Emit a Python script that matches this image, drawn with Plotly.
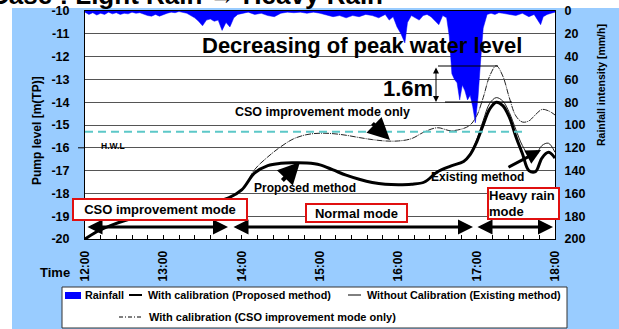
import plotly.graph_objects as go

# ---------------- data ----------------
level_time = ["12:00","12:10","12:20","12:30","12:40","12:50","13:00","13:10","13:20","13:30",
              "13:40","13:50","14:00","14:10","14:20","14:30","14:40","14:50","15:00","15:10",
              "15:20","15:30","15:40","15:50","16:00","16:10","16:20","16:30","16:40","16:50",
              "16:55","17:00","17:05","17:10","17:15","17:20","17:25","17:30","17:35","17:40",
              "17:45","17:50","17:55","18:00"]

proposed = [-20.0,-19.65,-19.4,-19.2,-19.05,-18.95,-18.85,-18.75,-18.65,-18.5,
            -18.35,-18.2,-17.85,-17.1,-16.78,-16.68,-16.66,-16.67,-16.75,-16.97,
            -17.2,-17.38,-17.52,-17.6,-17.62,-17.6,-17.5,-17.05,-16.8,-16.6,
            -16.3,-15.75,-15.0,-14.3,-14.0,-14.15,-14.65,-15.5,-16.25,-17.0,
            -17.05,-16.45,-16.2,-16.45]

existing = [-20.0,-19.65,-19.4,-19.2,-19.05,-18.95,-18.85,-18.75,-18.65,-18.5,
            -18.35,-18.2,-17.85,-17.1,-16.78,-16.68,-16.66,-16.67,-16.75,-16.97,
            -17.2,-17.38,-17.52,-17.6,-17.62,-17.6,-17.5,-17.05,-16.8,-16.6,
            -16.25,-15.65,-14.8,-14.05,-13.8,-13.95,-14.45,-15.2,-15.9,-16.3,
            -16.3,-15.9,-15.8,-16.2]

cso_only = [-20.0,-19.65,-19.4,-19.2,-19.05,-18.95,-18.85,-18.75,-18.65,-18.5,
            -18.35,-18.2,-17.85,-16.95,-16.4,-15.95,-15.6,-15.42,-15.36,-15.38,
            -15.45,-15.55,-15.64,-15.7,-15.7,-15.6,-15.3,-15.12,-15.25,-15.15,
            -15.0,-14.6,-13.8,-12.85,-12.4,-12.85,-13.8,-14.6,-14.87,-14.82,
            -14.55,-14.32,-14.38,-14.56]

rain_time = ["12:00","12:03","12:06","12:09","12:12","12:15","12:18","12:21","12:24","12:27",
             "12:30","12:33","12:36","12:39","12:42","12:45","12:48","12:51","12:54","12:57",
             "13:00","13:03","13:06","13:09","13:12","13:15","13:18","13:21","13:24","13:27",
             "13:30","13:33","13:36","13:39","13:42","13:45","13:48","13:51","13:54","13:57",
             "14:00","14:05","14:10","14:15","14:20","14:25","14:30","14:35","14:40","14:45",
             "14:50","14:55","15:00","15:05","15:10","15:15","15:20","15:25","15:30","15:35",
             "15:40","15:45","15:50","15:53","15:56","15:59","16:02","16:05","16:07","16:10",
             "16:13","16:16","16:19","16:22","16:25","16:28","16:31","16:34","16:37","16:39",
             "16:41","16:43","16:45","16:47","16:49","16:51","16:53","16:55","16:57","16:59",
             "17:01","17:03","17:05","17:08","17:11","17:14","17:17","17:20","17:25","17:30",
             "17:35","17:40","17:44","17:47","17:49","17:51","17:54","17:57","18:00"]

rainfall = [1,3,1.5,3.5,2,3,1,2.5,1.5,3,
            2,2.5,1,2,1.5,3,4,4.5,3,4.5,
            3,2,1,1.5,0.5,1,2,4,6,9,
            13,8,7,9,8,17,10,14,6,3,
            2,1,3,2,4,5,2,1,1.5,1,
            2,1,2,3.5,5,4,6,4,5,3,
            4,6,3,8,5,14,20,28,10,4,
            6,8,4,3,5,9,12,4,6,22,
            55,60,63,78,65,70,78,74,84,98,
            76,44,15,3,2,3,1.5,2,3,4,
            2,5,3,9,12,5,3,2,1]

hour_ticks = [12, 13, 14, 15, 16, 17, 18]
hour_labels = ["12:00", "13:00", "14:00", "15:00", "16:00", "17:00", "18:00"]
level_ticks = [-10, -11, -12, -13, -14, -15, -16, -17, -18, -19, -20]
rain_ticks = [0, 20, 40, 60, 80, 100, 120, 140, 160, 180, 200]
hwl_level = -15.3


def hours(t):
    h, m = t.split(":")
    return int(h) + int(m) / 60


FONT = "Liberation Sans, Arial, sans-serif"
W, H = 619, 329
L, R, T, B = 85, 64, 11, 90
PW, PH = W - L - R, H - T - B


def PX(x):
    return (x - L) / PW


def PY(y):
    return (H - B - y) / PH


fig = go.Figure()

fig.add_trace(go.Scatter(
    x=[hours(t) for t in rain_time], y=rainfall, yaxis="y", mode="lines",
    fill="tozeroy", fillcolor="#0000FF", line=dict(color="#0000FF", width=0.5),
    name="Rainfall", showlegend=False))

lt = [hours(t) for t in level_time]
fig.add_trace(go.Scatter(x=lt, y=cso_only, yaxis="y2", mode="lines", line_shape="spline",
                         line=dict(color="#222222", width=1, dash="6px,1px,1px,1px"),
                         name="With calibration (CSO improvement mode only)", showlegend=False))
fig.add_trace(go.Scatter(x=lt, y=existing, yaxis="y2", mode="lines", line_shape="spline",
                         line=dict(color="#222222", width=1),
                         name="Without Calibration (Existing method)", showlegend=False))
fig.add_trace(go.Scatter(x=lt, y=proposed, yaxis="y2", mode="lines", line_shape="spline",
                         line=dict(color="black", width=3),
                         name="With calibration (Proposed method)", showlegend=False))

shapes = []
# blue backdrop and white plot area
shapes.append(dict(type="rect", xref="paper", yref="paper", x0=PX(12), x1=PX(619), y0=PY(329), y1=PY(8),
                   fillcolor="#99CCFF", line=dict(width=0), layer="below"))
shapes.append(dict(type="rect", xref="paper", yref="paper", x0=0, x1=1, y0=0, y1=1,
                   fillcolor="white", line=dict(width=0), layer="below"))
# dashed level line
shapes.append(dict(type="line", xref="paper", yref="y2", x0=0, x1=PX(527), y0=hwl_level, y1=hwl_level,
                   line=dict(color="#5CC8C8", width=2, dash="8px,5px"), layer="above"))
# H.W.L tick
shapes.append(dict(type="line", xref="paper", yref="paper", x0=PX(78), x1=PX(85), y0=PY(147.8), y1=PY(147.8),
                   line=dict(color="black", width=1)))
# 1.6 m reference lines
shapes.append(dict(type="line", xref="paper", yref="paper", x0=PX(438), x1=PX(498), y0=PY(66), y1=PY(66),
                   line=dict(color="black", width=1.2), layer="above"))
shapes.append(dict(type="line", xref="paper", yref="paper", x0=PX(445), x1=PX(512), y0=PY(102), y1=PY(102),
                   line=dict(color="black", width=1.2), layer="above"))
# legend box
shapes.append(dict(type="rect", xref="paper", yref="paper", x0=PX(62), x1=PX(567), y0=PY(328), y1=PY(287),
                   fillcolor="white", line=dict(color="#333333", width=1)))
shapes.append(dict(type="rect", xref="paper", yref="paper", x0=PX(65), x1=PX(81), y0=PY(299), y1=PY(292),
                   fillcolor="#0000FF", line=dict(width=0)))
shapes.append(dict(type="line", xref="paper", yref="paper", x0=PX(129), x1=PX(142), y0=PY(295), y1=PY(295),
                   line=dict(color="black", width=2)))
shapes.append(dict(type="line", xref="paper", yref="paper", x0=PX(348), x1=PX(361), y0=PY(295), y1=PY(295),
                   line=dict(color="black", width=1)))
shapes.append(dict(type="line", xref="paper", yref="paper", x0=PX(119), x1=PX(143), y0=PY(317), y1=PY(317),
                   line=dict(color="black", width=1, dash="4px,2px,1px,2px")))

ann = []


def text(x, y, s, size, anchor="center", bold=True, **kw):
    ann.append(dict(x=PX(x), y=PY(y), xref="paper", yref="paper", text=("<b>%s</b>" % s) if bold else s,
                    showarrow=False, xanchor=anchor, yanchor="middle",
                    font=dict(family=FONT, size=size, color="black"), **kw))


def arrow(x0, y0, x1, y1, width, head=2, size=1.0, both=False, color="black"):
    ann.append(dict(x=PX(x1), y=PY(y1), xref="paper", yref="paper", ax=x0 - x1, ay=y0 - y1,
                    text="", showarrow=True, arrowhead=head, arrowsize=size, arrowwidth=width,
                    arrowcolor=color, arrowside="end+start" if both else "end",
                    startarrowhead=head, startarrowsize=size))


# title (clipped at top, as in the source image)
text(-12, -5, "Case : Light Rain \u2192 Heavy Rain", 26, anchor="left")
text(362, 45, "Decreasing of peak water level", 22)
text(408, 89, "1.6m", 22)
text(322, 112, "CSO improvement mode only", 12.5)
text(113, 146, "H.W.L", 8.5)
text(305, 187.5, "Proposed method", 12)
text(477, 177, "Existing method", 12)
# axis titles
text(37, 131, "Pump level [m(TP)]", 12, textangle=-90)
text(601, 85, "Rainfall intensity [mm/h]", 10.5, textangle=-90)
text(55, 272, "Time", 13)
# legend texts
text(83, 295, "Rainfall", 10.8, anchor="left")
text(146, 295, "With calibration (Proposed method)", 10.8, anchor="left")
text(365, 295, "Without Calibration (Existing method)", 10.8, anchor="left")
text(147, 317, "With calibration (CSO improvement mode only)", 11, anchor="left")

# arrows
arrow(436, 66, 436, 102, 1, head=2, size=1.2, both=True)
arrow(371, 122, 390, 140, 4, head=2, size=1.1)
arrow(281, 182, 300, 162, 4, head=2, size=1.1)
arrow(507, 168, 541, 150, 3, head=2, size=1.0)
arrow(86, 227, 228, 227, 3, head=2, size=1.0, both=True)
arrow(232, 227, 473, 227, 3, head=2, size=1.0, both=True)
arrow(476, 227, 553, 227, 3, head=2, size=1.0, both=True)

# mode boxes
box_font = dict(family=FONT, size=13, color="black")
ann.append(dict(x=PX(160), y=PY(209.5), xref="paper", yref="paper", text="<b>CSO improvement mode</b>",
                showarrow=False, xanchor="center", yanchor="middle",
                width=172, height=19, bgcolor="white", bordercolor="#E01010",
                borderwidth=2, borderpad=0, font=box_font))
ann.append(dict(x=PX(356.5), y=PY(213), xref="paper", yref="paper", text="<b>Normal mode</b>",
                showarrow=False, xanchor="center", yanchor="middle",
                width=99, height=16, bgcolor="white", bordercolor="#E01010",
                borderwidth=2, borderpad=0, font=box_font))
ann.append(dict(x=PX(523.5), y=PY(203.5), xref="paper", yref="paper", text="<b>Heavy rain<br>mode</b>",
                showarrow=False, xanchor="center", yanchor="middle",
                width=69, height=29, bgcolor="white", bordercolor="#E01010",
                borderwidth=2, borderpad=0, align="left", font=box_font))

fig.update_layout(
    width=W, height=H, autosize=False,
    margin=dict(l=L, r=R, t=T, b=B, autoexpand=False),
    paper_bgcolor="white", plot_bgcolor="rgba(0,0,0,0)",
    showlegend=False,
    shapes=shapes, annotations=ann,
    xaxis=dict(range=[12, 18], tickvals=hour_ticks, ticktext=["<b>%s</b>" % s for s in hour_labels],
               tickangle=-90, ticks="inside", ticklen=4, tickcolor="black", automargin=False,
               minor=dict(dtick=0.2, ticks="inside", ticklen=4, tickcolor="black"),
               showline=True, linecolor="black", linewidth=1, mirror=True, showgrid=False,
               zeroline=False, tickfont=dict(family=FONT, size=12, color="black"), ticklabelstandoff=6),
    yaxis=dict(range=[200, 0], tickvals=rain_ticks, ticktext=["<b>%d</b>" % v for v in rain_ticks],
               side="right", showgrid=False, zeroline=False, ticks="", showline=True, automargin=False,
               linecolor="black", linewidth=1,
               tickfont=dict(family=FONT, size=12.5, color="black"), ticklabelstandoff=6),
    yaxis2=dict(range=[-20, -10], overlaying="y", side="left", tickvals=level_ticks,
                ticktext=["<b>%d</b>" % v for v in level_ticks], automargin=False,
                showgrid=True, gridcolor="#555555", gridwidth=1, zeroline=False, ticks="",
                showline=True, linecolor="black", linewidth=1,
                tickfont=dict(family=FONT, size=12.5, color="black"), ticklabelstandoff=12),
)

fig.write_html("out.html", config={"displayModeBar": False},
               post_script="document.body.style.margin='0';")
